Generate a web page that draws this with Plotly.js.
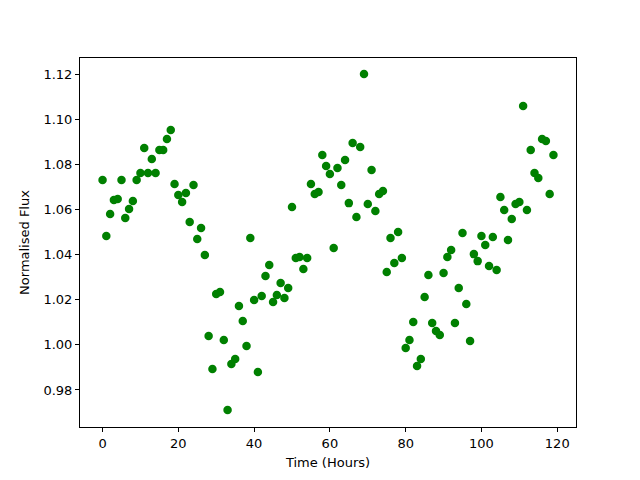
<!DOCTYPE html>
<html><head><meta charset="utf-8">
<script src="https://cdn.plot.ly/plotly-3.0.1.min.js"></script>
<style>html,body{margin:0;padding:0;background:#fff}#plot{width:640px;height:480px}</style>
</head><body><div id="plot"></div>
<script>
const hours = Array.from({length: 120}, (_, i) => i);
const flux = [
1.0730,1.0482,1.0580,1.0642,1.0646,1.0730,1.0562,1.0602,1.0637,1.0730,
1.0761,1.0872,1.0761,1.0823,1.0761,1.0863,1.0863,1.0912,1.0952,1.0713,
1.0664,1.0633,1.0673,1.0544,1.0708,1.0469,1.0518,1.0398,1.0039,0.9893,
1.0225,1.0234,1.0021,0.9711,0.9915,0.9937,1.0172,1.0106,0.9995,1.0473,
1.0199,0.9880,1.0216,1.0305,1.0354,1.0190,1.0221,1.0274,1.0208,1.0252,
1.0611,1.0385,1.0389,1.0336,1.0385,1.0713,1.0668,1.0677,1.0841,1.0792,
1.0757,1.0429,1.0784,1.0708,1.0819,1.0628,1.0894,1.0566,1.0877,1.1200,
1.0624,1.0775,1.0593,1.0668,1.0682,1.0323,1.0473,1.0363,1.0500,1.0385,
0.9986,1.0021,1.0101,0.9906,0.9937,1.0212,1.0309,1.0097,1.0061,1.0044,
1.0318,1.0389,1.0420,1.0097,1.0252,1.0496,1.0181,1.0017,1.0402,1.0371,
1.0482,1.0442,1.0349,1.0478,1.0332,1.0655,1.0597,1.0465,1.0558,1.0624,
1.0633,1.1058,1.0597,1.0863,1.0761,1.0739,1.0912,1.0903,1.0668,1.0841
];
const xTicks = [0,20,40,60,80,100,120];
const yTicks = [0.98,1.00,1.02,1.04,1.06,1.08,1.10,1.12];

const axisCommon = {
  showgrid:false, zeroline:false, showline:true, mirror:true,
  linecolor:'#000', linewidth:1, ticks:'outside', ticklen:4, tickwidth:1,
  tickcolor:'#000', tickfont:{family:'DejaVu Sans', size:13, color:'#000'}
};
Plotly.newPlot('plot', [{
  x: hours, y: flux, type:'scatter', mode:'markers',
  marker:{color:'#008000', size:8.5}
}], {
  width:640, height:480,
  margin:{l:80, r:64, t:58, b:53},
  paper_bgcolor:'#fff', plot_bgcolor:'#fff',
  showlegend:false,
  xaxis: Object.assign({}, axisCommon, {
    range:[-5.95,124.95], tickvals:xTicks, ticktext:xTicks.map(String),
    title:{text:'Time (Hours)', font:{family:'DejaVu Sans', size:13, color:'#000'}, standoff:8}
  }),
  yaxis: Object.assign({}, axisCommon, {
    range:[0.9636,1.1271], tickvals:yTicks, ticktext:yTicks.map(v=>v.toFixed(2)),
    title:{text:'Normalised Flux', font:{family:'DejaVu Sans', size:13, color:'#000'}, standoff:10}
  })
}, {displayModeBar:false, staticPlot:true});
</script>
</body></html>
